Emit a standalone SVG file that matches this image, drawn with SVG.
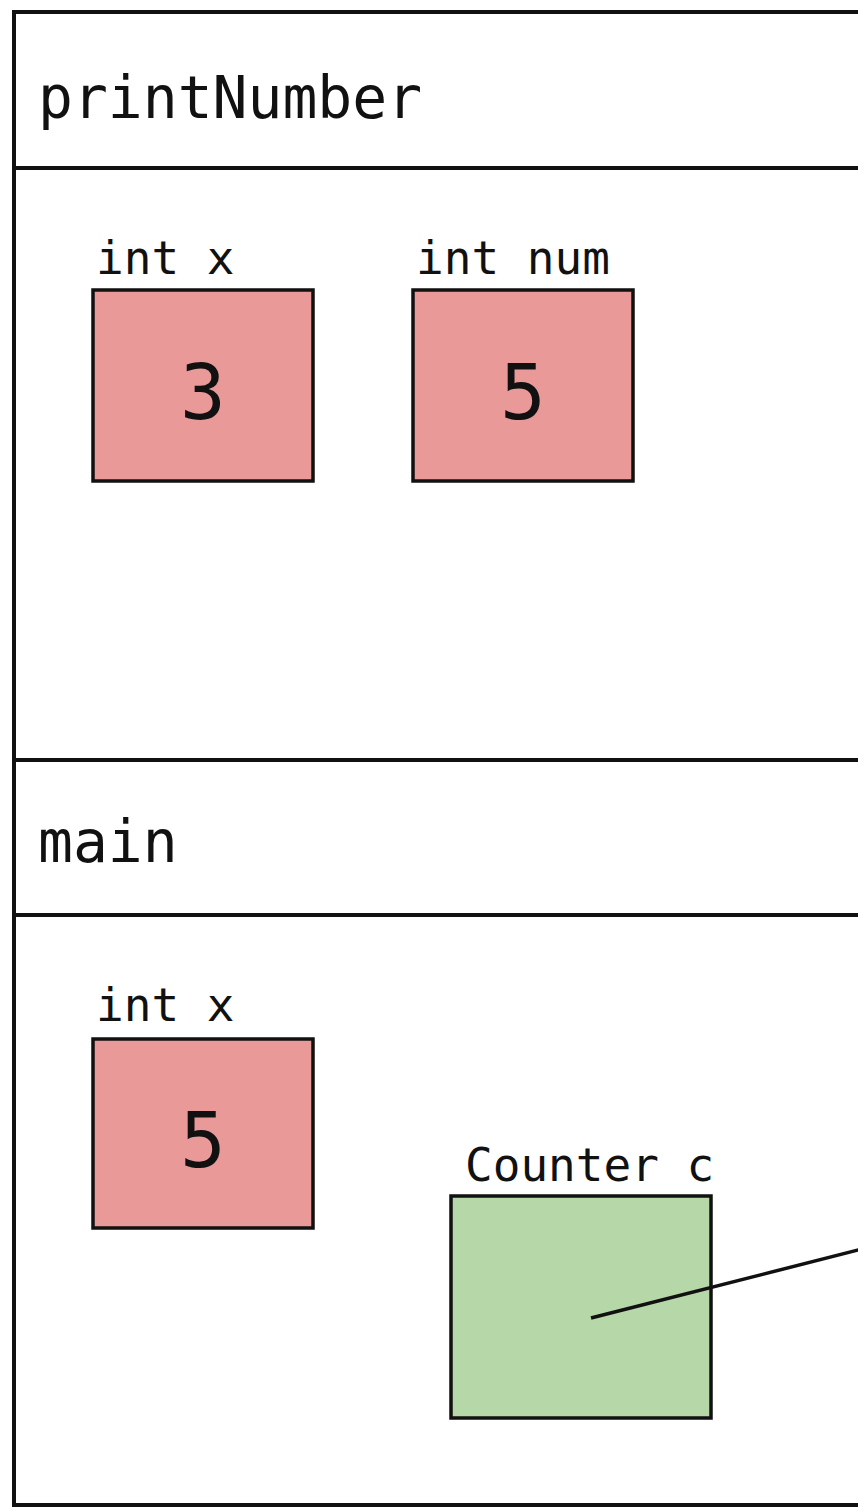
<svg xmlns="http://www.w3.org/2000/svg" width="858" height="1507" viewBox="0 0 858 1507">
<style>
.frame{fill:#fff;stroke:#111;stroke-width:4}
.sep{stroke:#111;stroke-width:4}
.hdr{font-family:"DejaVu Sans Mono",monospace;font-size:58px;fill:#111}
.lbl{font-family:"DejaVu Sans Mono",monospace;font-size:46px;fill:#111}
.val{font-family:"DejaVu Sans Mono",monospace;font-size:76px;fill:#111;text-anchor:middle}
.prim{fill:#ea9999;stroke:#111;stroke-width:3.5}
.obj{fill:#b6d7a8;stroke:#111;stroke-width:3.5}
</style>
<rect width="858" height="1507" fill="#fff"/>
<g id="frame-printNumber">
<rect class="frame" x="14" y="12" width="870" height="748"/>
<line class="sep" x1="14" y1="168" x2="870" y2="168"/>
<text class="hdr" x="38" y="118">printNumber</text>
</g>
<g id="frame-main">
<rect class="frame" x="14" y="760" width="870" height="745"/>
<line class="sep" x1="14" y1="915" x2="870" y2="915"/>
<text class="hdr" x="38" y="862">main</text>
</g>
<g id="pn-int-x">
<text class="lbl" x="96" y="274">int x</text>
<rect class="prim" x="93" y="290" width="220" height="191"/>
<text class="val" x="203" y="419">3</text>
</g>
<g id="pn-int-num">
<text class="lbl" x="416" y="274">int num</text>
<rect class="prim" x="413" y="290" width="220" height="191"/>
<text class="val" x="523" y="419">5</text>
</g>
<g id="main-int-x">
<text class="lbl" x="96" y="1021">int x</text>
<rect class="prim" x="93" y="1039" width="220" height="189"/>
<text class="val" x="203" y="1167">5</text>
</g>
<g id="main-counter-c">
<text class="lbl" x="465" y="1181">Counter c</text>
<rect class="obj" x="451" y="1196" width="260" height="222"/>
</g>
<g id="connectors">
<line x1="591" y1="1318" x2="870" y2="1247" stroke="#111" stroke-width="3.5"/>
</g>
</svg>
